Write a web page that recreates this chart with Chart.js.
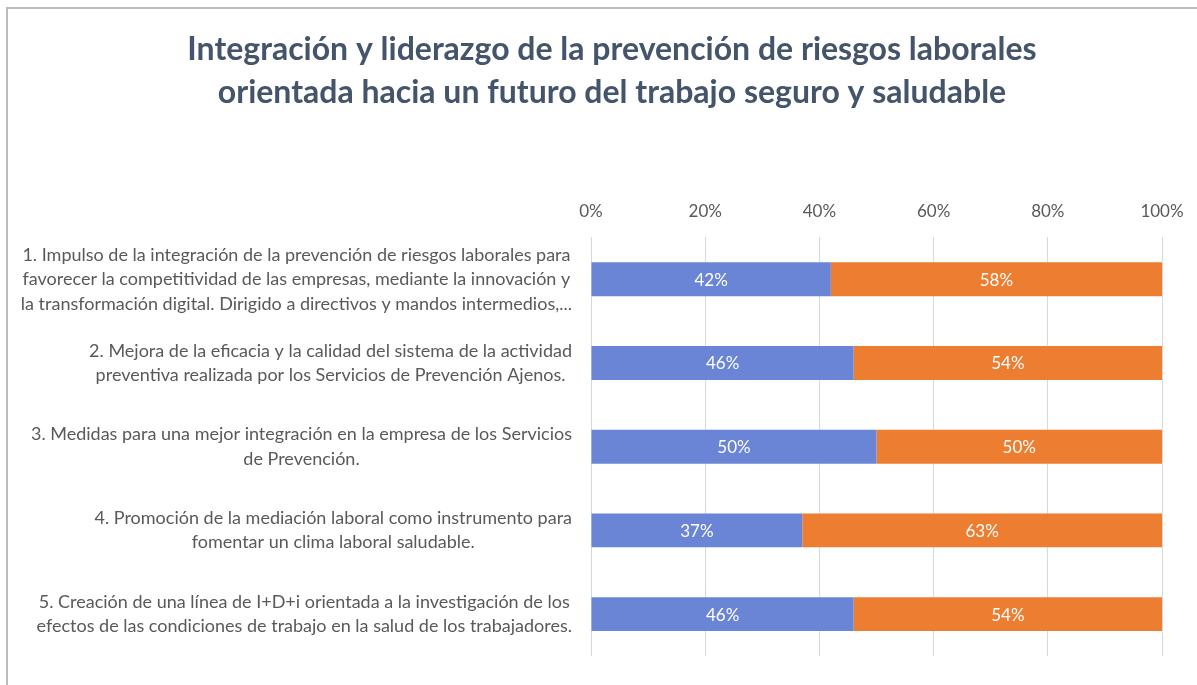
<!DOCTYPE html>
<html>
<head>
<meta charset="utf-8">
<script src="https://cdn.jsdelivr.net/npm/chart.js@4"></script>
<style>
  html, body { margin: 0; padding: 0; background: #fff; }
  #wrap { position: relative; width: 1197px; height: 685px; }
  #frame { position: absolute; left: 6px; top: 7px; right: 0; bottom: 0;
           border-top: 2px solid #bcbcbc; border-left: 2px solid #bcbcbc; pointer-events: none; }
</style>
</head>
<body>
<div id="wrap">
  <canvas id="chart" width="1197" height="685"></canvas>
  <div id="frame"></div>
</div>
<script>
// categories (one array of lines per bar)
const categories = [
  ['1. Impulso de la integración de la prevención de riesgos laborales para',
   'favorecer la competitividad de las empresas, mediante la innovación y',
   'la transformación digital. Dirigido a directivos y mandos intermedios,...'],
  ['2. Mejora de la eficacia y la calidad del sistema de la actividad',
   'preventiva realizada por los Servicios de Prevención Ajenos.'],
  ['3. Medidas para una mejor integración en la empresa de los Servicios',
   'de Prevención.'],
  ['4. Promoción de la mediación laboral como instrumento para',
   'fomentar un clima laboral saludable.'],
  ['5. Creación de una línea de I+D+i orientada a la investigación de los',
   'efectos de las condiciones de trabajo en la salud de los trabajadores.']
];
const serieA = [42, 46, 50, 37, 46];
const serieB = [58, 54, 50, 63, 54];
const xTicks = [0, 20, 40, 60, 80, 100];

const titleLines = ['Integración y liderazgo de la prevención de riesgos laborales',
                    'orientada hacia un futuro del trabajo seguro y saludable'];

const FONT = 'Lato, "Open Sans", sans-serif';

// title drawn by hand so it can sit a bit right of the canvas centre
const titlePlugin = {
  id: 'titleText',
  afterDraw(chart) {
    const ctx = chart.ctx;
    ctx.save();
    ctx.font = 'bold 32px ' + FONT;
    ctx.fillStyle = '#44546A';
    ctx.textAlign = 'center';
    ctx.textBaseline = 'middle';
    titleLines.forEach((t, i) => ctx.fillText(t, 612, 50 + i * 43));
    ctx.restore();
  }
};

// category labels: block right-aligned, lines centred inside the block
const catLabels = {
  id: 'catLabels',
  afterDraw(chart) {
    const ctx = chart.ctx;
    const y = chart.scales.y;
    const right = y.right - 19;
    const lh = 24.5;
    ctx.save();
    ctx.font = '18px ' + FONT;
    ctx.fillStyle = '#595959';
    ctx.textAlign = 'center';
    ctx.textBaseline = 'middle';
    categories.forEach((lines, i) => {
      const cy = y.getPixelForValue(i);
      const w = Math.max(...lines.map(l => ctx.measureText(l).width));
      const cx = right - w / 2;
      lines.forEach((l, j) => {
        ctx.fillText(l, cx, cy + (j - (lines.length - 1) / 2) * lh);
      });
    });
    ctx.restore();
  }
};

// values inside bars
const barValues = {
  id: 'barValues',
  afterDatasetsDraw(chart) {
    const ctx = chart.ctx;
    ctx.save();
    ctx.font = '17px ' + FONT;
    ctx.fillStyle = '#ffffff';
    ctx.textAlign = 'center';
    ctx.textBaseline = 'middle';
    chart.data.datasets.forEach((ds, di) => {
      chart.getDatasetMeta(di).data.forEach((bar, i) => {
        ctx.fillText(ds.data[i] + '%', (bar.x + bar.base) / 2, bar.y + 1);
      });
    });
    ctx.restore();
  }
};

new Chart(document.getElementById('chart'), {
  type: 'bar',
  data: {
    labels: categories.map(c => c.join(' ')),
    datasets: [
      { label: 'A', data: serieA, backgroundColor: '#6A85D5' },
      { label: 'B', data: serieB, backgroundColor: '#ED7D31' }
    ]
  },
  options: {
    indexAxis: 'y',
    responsive: false,
    animation: false,
    categoryPercentage: 0.45,
    barPercentage: 0.9,
    layout: { padding: { left: 0, right: 35, top: 185, bottom: 29 } },
    plugins: {
      legend: { display: false },
      tooltip: { enabled: false },
      title: { display: false }
    },
    scales: {
      x: {
        position: 'top',
        stacked: true,
        min: 0,
        max: 100,
        afterBuildTicks(scale) { scale.ticks = xTicks.map(v => ({ value: v })); },
        afterFit(scale) { scale.paddingLeft = 0; scale.paddingRight = 0; },
        ticks: {
          padding: 16,
          color: '#595959',
          font: { family: FONT, size: 17 },
          callback: v => v + '%'
        },
        grid: { color: '#d9d9d9', drawTicks: false },
        border: { display: false }
      },
      y: {
        stacked: true,
        ticks: { display: false },
        grid: { display: false },
        border: { display: false },
        afterFit(scale) { scale.width = 591; }
      }
    }
  },
  plugins: [catLabels, barValues, titlePlugin]
});
</script>
</body>
</html>
